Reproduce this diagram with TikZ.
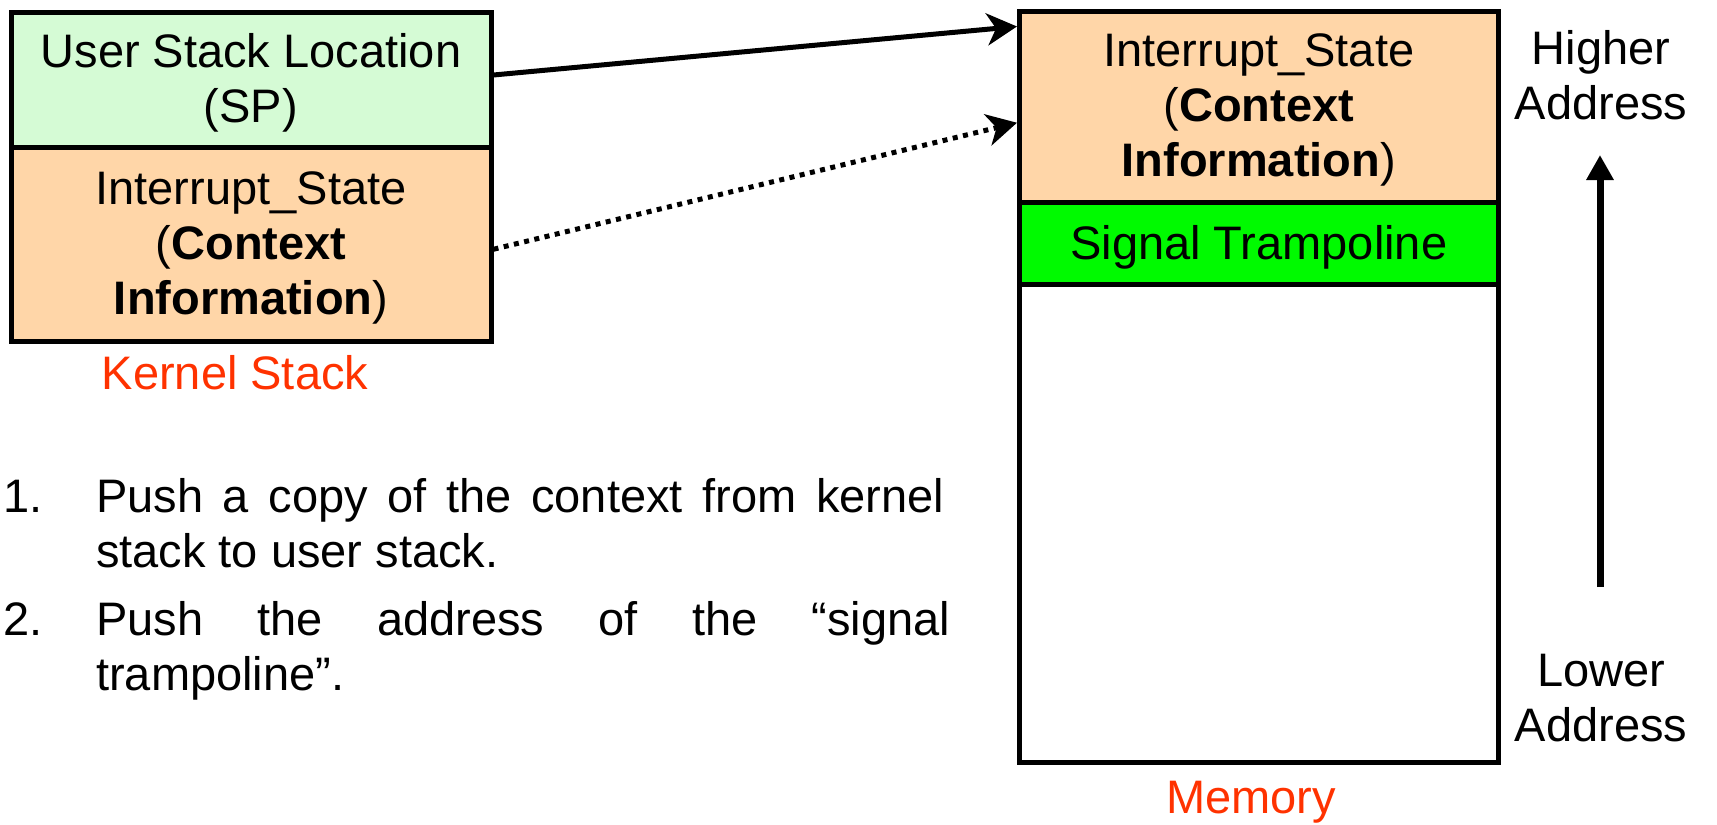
\documentclass[tikz,border=0pt]{standalone}
\usepackage{fontspec}
\setmainfont{Liberation Sans}
\usetikzlibrary{arrows.meta}
\definecolor{spgreen}{RGB}{213,251,213}
\definecolor{ctxpeach}{RGB}{255,214,168}
\definecolor{trampgreen}{RGB}{0,250,0}
\definecolor{labelred}{RGB}{255,50,0}
% extra room above the first line of a cell, lowering its text a little
\newcommand{\celltop}{\rule{0pt}{40pt}}
\begin{document}
\begin{tikzpicture}[x=1pt,y=-1pt,
  cell/.style={draw=black, line width=5pt, inner sep=0pt, align=center,
               font=\fontsize{47}{55}\selectfont},
  kcell/.style={cell, minimum width=480pt},
  mcell/.style={cell, minimum width=478.5pt},
  caption/.style={text=labelred, inner sep=0pt, font=\fontsize{47}{55}\selectfont},
  side/.style={inner sep=0pt, align=center, font=\fontsize{47}{55}\selectfont},
  listtxt/.style={inner sep=0pt, anchor=base west, font=\fontsize{47}{55}\selectfont},
  link/.style={line width=5pt, -{Stealth[length=30pt,width=32pt,inset=9pt]}},
  dotlink/.style={link, dash pattern=on 5pt off 5.5pt}
]
\useasboundingbox (0,0) rectangle (1717,825);

% kernel stack
\node[kcell, fill=spgreen, minimum height=135pt] (ksp) at (251,80)
  {\celltop User Stack Location\\(SP)};
\node[kcell, fill=ctxpeach, minimum height=193.5pt] (kctx) at (251,244.25)
  {\celltop Interrupt\_State\\(\textbf{Context}\\\textbf{Information})};
\node[caption, anchor=base] (kname) at (235,389) {Kernel Stack};

% user memory
\node[mcell, minimum height=477.5pt] (mfree) at (1258.75,523.25) {};
\node[mcell, fill=ctxpeach, minimum height=191.5pt] (mctx) at (1258.75,106.75)
  {\celltop Interrupt\_State\\(\textbf{Context}\\\textbf{Information})};
\node[mcell, fill=trampgreen, minimum height=82pt] (mtramp) at (1258.75,243.5)
  {\rule{0pt}{42pt}Signal Trampoline};
\node[caption, anchor=base] (mname) at (1251,813) {Memory};

% address direction
\node[side] (hiaddr) at (1601,75.5) {Higher\\Address};
\node[side] (loaddr) at (1601,698.5) {Lower\\Address};
\coordinate (addrlow) at (1600,587);
\coordinate (addrhigh) at (1600,155);
\draw[line width=7pt, -{Triangle[length=25pt,width=26pt]}] (addrlow) -- (addrhigh);

% copies from kernel stack to memory
\draw[link] ([yshift=5pt]ksp.east) -- ([yshift=-18pt]mctx.north west);
\draw[dotlink] ([yshift=-5pt]kctx.east) -- ([yshift=-16pt]mctx.west);

% steps
\node[listtxt] (num1) at (3,512) {1.};
\node[listtxt] (step1a) at (96,512) {\hbox to 848pt{Push a copy of the context from kernel}};
\node[listtxt] (step1b) at (96,567) {stack to user stack.};
\node[listtxt] (num2) at (3,635) {2.};
\node[listtxt] (step2a) at (96,635) {\hbox to 854pt{Push\hfill the\hfill address\hfill of\hfill the\hfill “signal}};
\node[listtxt] (step2b) at (96,690) {trampoline”.};
\end{tikzpicture}
\end{document}
